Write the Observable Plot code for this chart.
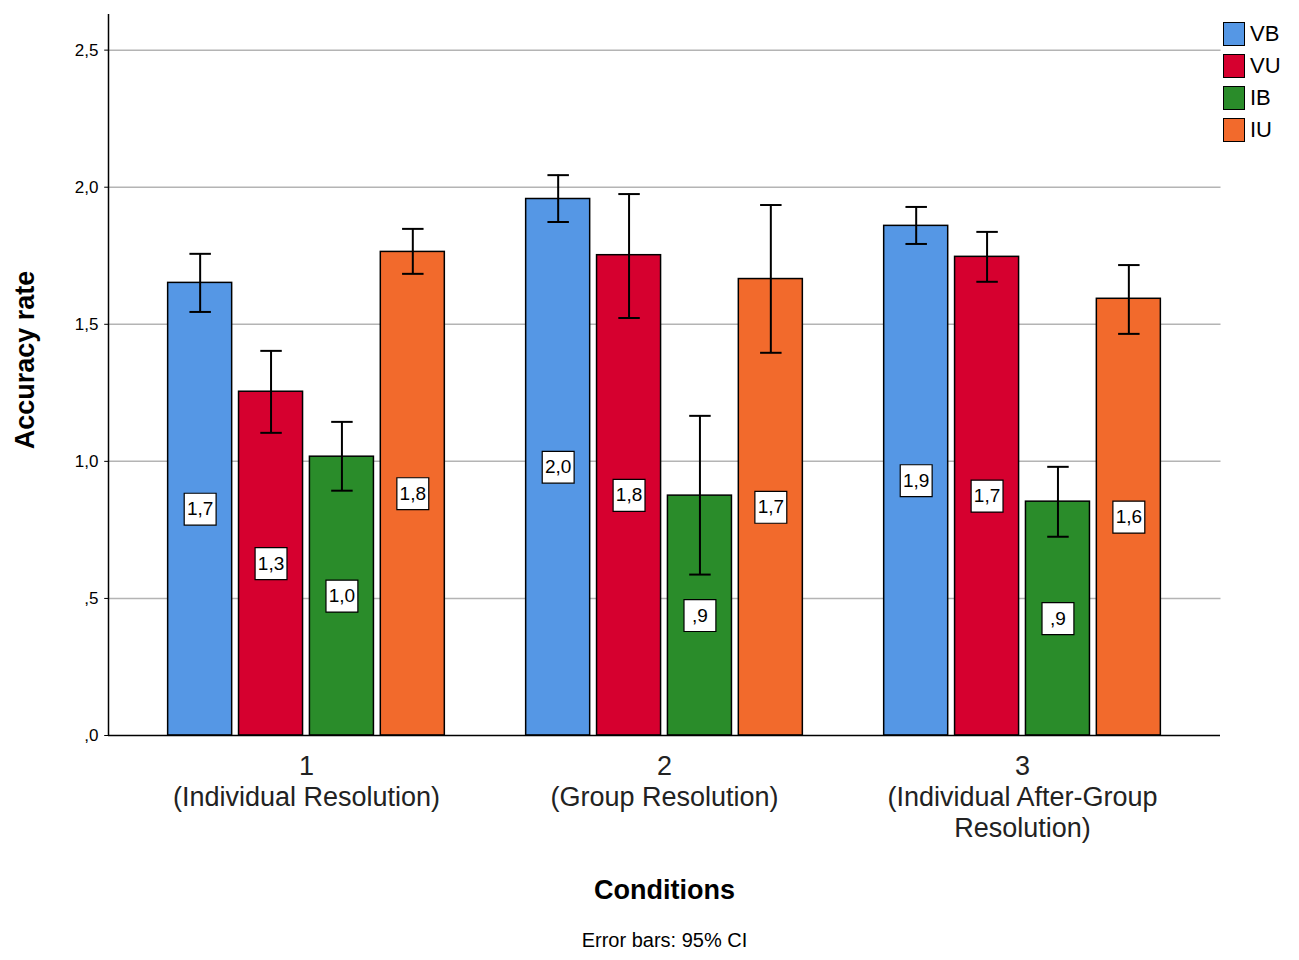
<!DOCTYPE html>
<html><head><meta charset="utf-8">
<script src="https://cdn.jsdelivr.net/npm/d3@7"></script>
<script src="https://cdn.jsdelivr.net/npm/@observablehq/plot@0.6"></script>
<style>body{margin:0;background:#fff;font-family:"Liberation Sans",Arial,sans-serif}
#wrap{position:relative;width:1299px;height:960px}
#legend{position:absolute;left:1223px;top:18px;font-size:22px}
#legend div{display:flex;align-items:center;height:32px}
#legend span{display:inline-block;width:20px;height:22px;border:1.5px solid #000;margin-right:5px}
</style></head><body><div id="wrap"><div id="legend"></div></div>
<script>
const conditions = [1, 2, 3];
const conditionLabels = [["1", "(Individual Resolution)"], ["2", "(Group Resolution)"], ["3", "(Individual After-Group", "Resolution)"]];
const series = ["VB", "VU", "IB", "IU"];
const colors = ["#5597e5", "#d6002f", "#2a8c2a", "#f26a2c"];
const means = [[1.651, 1.254, 1.017, 1.764], [1.957, 1.752, 0.875, 1.665], [1.859, 1.746, 0.853, 1.593]];
const lows  = [[1.545, 1.104, 0.893, 1.684], [1.873, 1.523, 0.587, 1.396], [1.793, 1.655, 0.725, 1.465]];
const highs = [[1.757, 1.403, 1.144, 1.848], [2.044, 1.975, 1.166, 1.935], [1.928, 1.837, 0.980, 1.716]];
const yTicks = [0, 0.5, 1, 1.5, 2, 2.5];

const step = 0.198, half = 0.0894, cap = 0.03;
const data = [];
conditions.forEach((c, gi) => series.forEach((s, si) => {
  const xc = c + (si - 1.5) * step;
  data.push({c, s, xc, m: means[gi][si], lo: lows[gi][si], hi: highs[gi][si]});
}));
const fmt = v => { const t = v.toFixed(1).replace(".", ","); return t.startsWith("0") ? t.slice(1) : t; };
const labels = [];
conditions.forEach((c, gi) => conditionLabels[gi].forEach((t, li) => labels.push({c, t, li})));
const xd = [0.447, 3.553];
const tk = 0.012;

const chart = Plot.plot({
  width: 1299, height: 960, marginLeft: 108, marginRight: 79, marginTop: 14, marginBottom: 225,
  style: {fontFamily: "Liberation Sans, Arial, sans-serif", fontSize: "16px"},
  x: {domain: xd, axis: null},
  y: {domain: [0, 2.63], axis: null},
  color: {domain: series, range: colors},
  marks: [
    Plot.link(yTicks.slice(1), {x1: xd[0], x2: xd[1], y1: d => d, y2: d => d, stroke: "#b4b4b4", strokeWidth: 1.5}),
    Plot.text(yTicks, {x: xd[0], y: d => d, text: d => fmt(d), textAnchor: "end", dx: -10, fontSize: 17}),
    Plot.link(yTicks, {x1: xd[0] - tk, x2: xd[0], y1: d => d, y2: d => d, stroke: "#000"}),
    Plot.rectY(data, {x1: d => d.xc - half, x2: d => d.xc + half, y1: 0, y2: "m", fill: "s", stroke: "#000", strokeWidth: 1.5}),
    Plot.ruleX(data, {x: "xc", y1: "lo", y2: "hi", stroke: "#000", strokeWidth: 2}),
    Plot.link(data, {x1: d => d.xc - cap, x2: d => d.xc + cap, y1: "lo", y2: "lo", stroke: "#000", strokeWidth: 2}),
    Plot.link(data, {x1: d => d.xc - cap, x2: d => d.xc + cap, y1: "hi", y2: "hi", stroke: "#000", strokeWidth: 2}),
    Plot.dot(data, {x: "xc", y: d => d.m / 2, symbol: "square", r: 18, fill: "#fff", stroke: "#000", strokeWidth: 1.2}),
    Plot.text(data, {x: "xc", y: d => d.m / 2, text: d => fmt(d.m), fontSize: 19}),
    Plot.ruleX([xd[0]], {y1: 0, y2: 2.63, stroke: "#000", strokeWidth: 1.5}),
    Plot.ruleY([0], {x1: xd[0], x2: xd[1], stroke: "#000", strokeWidth: 1.5}),
    Plot.text(labels.filter(d => d.li === 0), {x: "c", y: 0, text: "t", dy: 31, fontSize: 27, fill: "#222"}),
    Plot.text(labels.filter(d => d.li === 1), {x: "c", y: 0, text: "t", dy: 62, fontSize: 27, fill: "#222"}),
    Plot.text(labels.filter(d => d.li === 2), {x: "c", y: 0, text: "t", dy: 93, fontSize: 27, fill: "#222"}),
    Plot.text(["Conditions"], {x: 2, y: 0, text: d => d, dy: 155, fontSize: 27, fontWeight: "bold"}),
    Plot.text(["Error bars: 95% CI"], {x: 2, y: 0, text: d => d, dy: 205, fontSize: 20}),
    Plot.text(["Accuracy rate"], {x: xd[0], y: 1.37, text: d => d, rotate: -90, dx: -83, fontSize: 27, fontWeight: "bold"})
  ]
});
const wrap = document.getElementById("wrap");
wrap.insertBefore(chart, wrap.firstChild);
const lg = document.getElementById("legend");
series.forEach((s, i) => { const d = document.createElement("div"); d.innerHTML = `<span style="background:${colors[i]}"></span>${s}`; lg.appendChild(d); });
</script></body></html>
